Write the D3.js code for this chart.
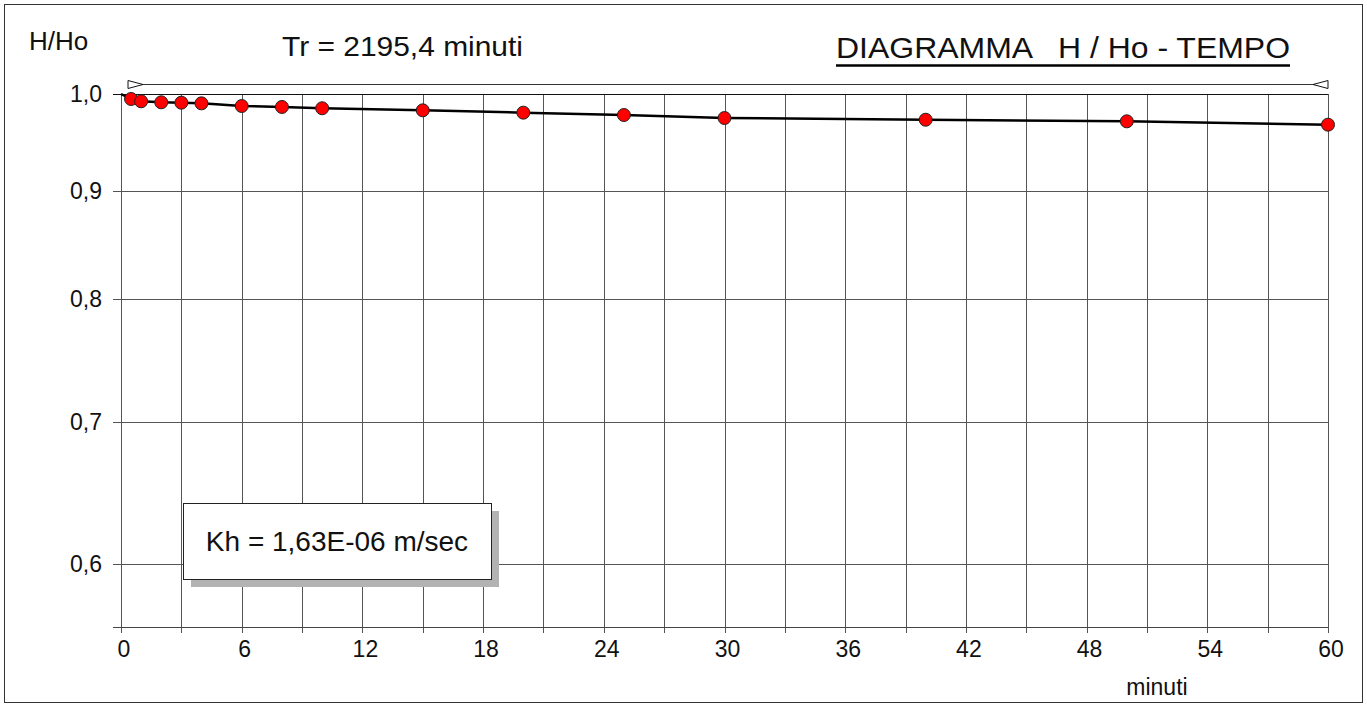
<!DOCTYPE html>
<html>
<head>
<meta charset="utf-8">
<script src="https://cdn.jsdelivr.net/npm/d3@7"></script>
<style>
  html, body { margin: 0; padding: 0; background: #fff; }
  svg { display: block; font-family: "Liberation Sans", Arial, sans-serif; }
</style>
</head>
<body>
<svg id="chart" width="1367" height="704"></svg>
<script>
// Falling-head test: time (minutes) and normalised head H/Ho
const times = [0, 0.5, 1, 2, 3, 4, 6, 8, 10, 15, 20, 25, 30, 40, 50, 60];
const ratios = [1.0, 0.9946, 0.9921, 0.9910, 0.9906, 0.9899, 0.9870, 0.9860, 0.9846,
                0.9824, 0.9799, 0.9774, 0.9742, 0.9724, 0.9707, 0.9672];
const xTicks = [0, 6, 12, 18, 24, 30, 36, 42, 48, 54, 60];
const xGrid = d3.range(0, 61, 3);
const yTicks = [1.0, 0.9, 0.8, 0.7, 0.6];
const yLabels = ["1,0", "0,9", "0,8", "0,7", "0,6"];
const trText = "Tr = 2195,4 minuti";
const khText = "Kh = 1,63E-06 m/sec";
const titleText = "DIAGRAMMA   H / Ho - TEMPO";

const svg = d3.select("#chart");

// outer frame
svg.append("rect").attr("x", 4.5).attr("y", 4.5).attr("width", 1358).attr("height", 698)
  .attr("fill", "#fff").attr("stroke", "#333").attr("stroke-width", 1);

const x = d3.scaleLinear().domain([0, 60]).range([121, 1328]);
const y = d3.scaleLog().domain([0.56, 1]).range([627, 94]);

const g = svg.append("g");

// vertical grid every 3 minutes, with ticks below the axis
g.selectAll("line.vg").data(xGrid).join("line").attr("class", "vg")
  .attr("x1", d => Math.round(x(d)) + 0.5).attr("x2", d => Math.round(x(d)) + 0.5)
  .attr("y1", y(1)).attr("y2", y(0.56) + 6)
  .attr("stroke", "#555").attr("stroke-width", 1);

// horizontal grid at labelled values, extended left as ticks
g.selectAll("line.hg").data(yTicks).join("line").attr("class", "hg")
  .attr("x1", x(0) - 8).attr("x2", x(60))
  .attr("y1", d => Math.round(y(d)) + 0.5).attr("y2", d => Math.round(y(d)) + 0.5)
  .attr("stroke", d => d === 1 ? "#111" : "#555").attr("stroke-width", 1);

// x axis baseline
g.append("line")
  .attr("x1", x(0) - 8).attr("x2", x(60))
  .attr("y1", Math.round(y(0.56)) + 0.5).attr("y2", Math.round(y(0.56)) + 0.5)
  .attr("stroke", "#444").attr("stroke-width", 1);

// y tick labels
g.selectAll("text.yl").data(yTicks).join("text").attr("class", "yl")
  .attr("x", x(0) - 19).attr("y", d => y(d) + 8)
  .attr("text-anchor", "end").attr("font-size", 23).attr("fill", "#111")
  .text((d, i) => yLabels[i]);

// x tick labels
g.selectAll("text.xl").data(xTicks).join("text").attr("class", "xl")
  .attr("x", d => x(d) + 3).attr("y", 657)
  .attr("text-anchor", "middle").attr("font-size", 23).attr("fill", "#111")
  .text(d => d);

// axis titles
svg.append("text").attr("x", 1157).attr("y", 695).attr("text-anchor", "middle")
  .attr("font-size", 23).attr("fill", "#111").text("minuti");
svg.append("text").attr("x", 29).attr("y", 50)
  .attr("font-size", 26).attr("fill", "#111").text("H/Ho");

// Tr annotation and underlined title
svg.append("text").attr("x", 282).attr("y", 56)
  .attr("font-size", 28).attr("fill", "#111")
  .attr("textLength", 241).attr("lengthAdjust", "spacingAndGlyphs").text(trText);
const title = svg.append("text").attr("x", 836).attr("y", 58)
  .attr("font-size", 29).attr("fill", "#111").attr("xml:space", "preserve")
  .style("white-space", "pre")
  .attr("textLength", 454).attr("lengthAdjust", "spacingAndGlyphs").text(titleText);
svg.append("line").attr("x1", 836).attr("x2", 1290)
  .attr("y1", 65.5).attr("y2", 65.5).attr("stroke", "#000").attr("stroke-width", 2.5);

// range indicator above the plot
const ay = 84.5;
svg.append("line").attr("x1", x(0) + 7).attr("x2", x(60)).attr("y1", ay).attr("y2", ay)
  .attr("stroke", "#333").attr("stroke-width", 1);
svg.append("path")
  .attr("d", `M${x(0) + 7},${ay - 4}L${x(0) + 22},${ay}L${x(0) + 7},${ay + 4}Z`)
  .attr("fill", "#fff").attr("stroke", "#111").attr("stroke-width", 1);
svg.append("path")
  .attr("d", `M${x(60)},${ay - 4}L${x(60) - 15},${ay}L${x(60)},${ay + 4}Z`)
  .attr("fill", "#fff").attr("stroke", "#111").attr("stroke-width", 1);

// Kh box with shadow
const bx = 183, by = 503, bw = 308, bh = 76;
svg.append("rect").attr("x", bx + 8).attr("y", by + 8).attr("width", bw).attr("height", bh)
  .attr("fill", "#b3b3b3");
svg.append("rect").attr("x", bx + 0.5).attr("y", by + 0.5).attr("width", bw).attr("height", bh)
  .attr("fill", "#fff").attr("stroke", "#222").attr("stroke-width", 1);
svg.append("text").attr("x", bx + bw / 2).attr("y", by + bh / 2 + 10)
  .attr("text-anchor", "middle").attr("font-size", 28).attr("fill", "#111").text(khText);

// data line and markers
const data = times.map((t, i) => ({ t, r: ratios[i] }));
svg.append("path").datum(data)
  .attr("d", d3.line().x(d => x(d.t)).y(d => y(d.r)))
  .attr("fill", "none").attr("stroke", "#000").attr("stroke-width", 2.5);
svg.selectAll("circle.pt").data(data.filter(d => d.t > 0)).join("circle").attr("class", "pt")
  .attr("cx", d => x(d.t)).attr("cy", d => y(d.r)).attr("r", 6.5)
  .attr("fill", "#ff0000").attr("stroke", "#222").attr("stroke-width", 1);
</script>
</body>
</html>
